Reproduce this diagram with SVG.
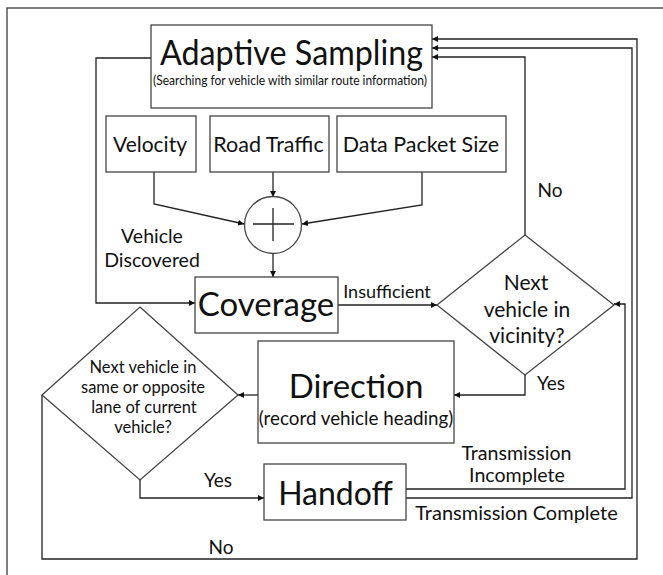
<svg xmlns="http://www.w3.org/2000/svg" width="663" height="575" viewBox="0 0 663 575">
<defs>
<marker id="ah" viewBox="0 0 10 10" refX="10" refY="5" markerWidth="6" markerHeight="6" markerUnits="userSpaceOnUse" orient="auto">
<path d="M0,0 L10,5 L0,10 z" fill="#111"/>
</marker>
<style>
.box{fill:#fff;stroke:#444;stroke-width:1.3}
.ln{fill:none;stroke:#222;stroke-width:1.3;marker-end:url(#ah)}
.pl{fill:none;stroke:#222;stroke-width:1.3}
text{font-family:Lato,"Open Sans","DejaVu Sans",sans-serif;fill:#111;text-anchor:middle}
</style>
</defs>
<rect width="663" height="575" fill="#fff"/>
<path d="M7,575 V8 H663" fill="none" stroke="#555" stroke-width="1.5"/>

<g id="connectors">
<path class="ln" d="M151,58 H96 V303 H195"/>
<path class="ln" d="M154,172 V204 L244,224"/>
<path class="ln" d="M273,172 V197"/>
<path class="ln" d="M422,172 V205 L302,224"/>
<path class="ln" d="M273,253 V277"/>
<path class="ln" d="M338,305 H437"/>
<path class="ln" d="M525,235 V57 H432"/>
<path class="ln" d="M525,375 V395 H454"/>
<path class="ln" d="M258,395 H238"/>
<path class="ln" d="M140,480 V498 H264"/>
<path class="ln" d="M42,395 V559 H637 V39 H432"/>
<path class="ln" d="M406,489 H625 V304 H614"/>
<path class="ln" d="M406,498 H632 V48 H432"/>
</g>

<g id="adaptive-sampling">
<rect class="box" x="151" y="25" width="281" height="83"/>
<text x="291.5" y="65" font-size="34" textLength="263" lengthAdjust="spacingAndGlyphs">Adaptive Sampling</text>
<text x="290" y="85" font-size="12.5" textLength="274" lengthAdjust="spacingAndGlyphs">(Searching for vehicle with similar route information)</text>
</g>

<g id="velocity">
<rect class="box" x="106" y="116" width="90" height="56"/>
<text x="150" y="152" font-size="21">Velocity</text>
</g>

<g id="road-traffic">
<rect class="box" x="210" y="116" width="119" height="56"/>
<text x="268.5" y="152" font-size="21.5">Road Traffic</text>
</g>

<g id="data-packet-size">
<rect class="box" x="337" y="116" width="169" height="56"/>
<text x="421" y="152" font-size="21.5">Data Packet Size</text>
</g>

<g id="sum">
<circle cx="273" cy="225" r="28.5" fill="#fff" stroke="#444" stroke-width="1.3"/>
<path class="pl" d="M253,224 H294 M273,208 V241"/>
</g>

<g id="coverage">
<rect class="box" x="195" y="277" width="143" height="56"/>
<text x="266" y="316" font-size="33">Coverage</text>
</g>

<g id="vicinity">
<polygon class="box" points="525,235 614,305 525,375 437,305"/>
<text x="526" y="290" font-size="21">Next</text>
<text x="527" y="317" font-size="21">vehicle in</text>
<text x="527" y="343" font-size="21">vicinity?</text>
</g>

<g id="direction">
<rect class="box" x="258" y="341" width="196" height="102"/>
<text x="356" y="398" font-size="33">Direction</text>
<text x="356" y="425" font-size="18.8">(record vehicle heading)</text>
</g>

<g id="lane">
<polygon class="box" points="140,307 238,395 140,480 42,395"/>
<text x="143" y="373" font-size="16.5">Next vehicle in</text>
<text x="143" y="393" font-size="16.5">same or opposite</text>
<text x="144" y="413" font-size="16.5">lane of current</text>
<text x="143" y="433" font-size="16.5">vehicle?</text>
</g>

<g id="handoff">
<rect class="box" x="264" y="464" width="142" height="56"/>
<text x="335.5" y="505" font-size="32">Handoff</text>
</g>

<g id="labels">
<text x="152" y="243" font-size="19.5">Vehicle</text>
<text x="152" y="267" font-size="19.5">Discovered</text>
<text x="387" y="298" font-size="18">Insufficient</text>
<text x="550" y="197" font-size="19">No</text>
<text x="551" y="390" font-size="19">Yes</text>
<text x="218" y="487" font-size="19">Yes</text>
<text x="221" y="554" font-size="19">No</text>
<text x="516.5" y="460" font-size="19.6">Transmission</text>
<text x="517" y="482" font-size="19.6">Incomplete</text>
<text x="516.5" y="520" font-size="20">Transmission Complete</text>
</g>
</svg>
